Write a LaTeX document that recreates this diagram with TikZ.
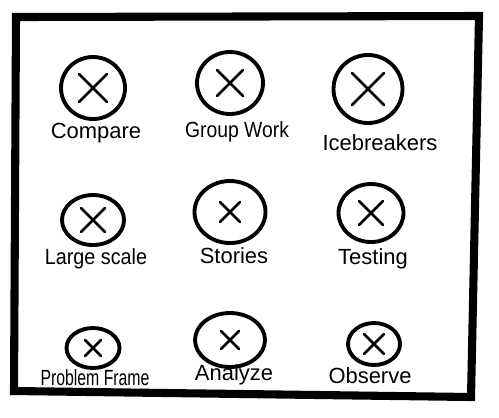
\documentclass[tikz,border=0pt]{standalone}
\usepackage{fontspec}
\setmainfont{Liberation Sans}
\usetikzlibrary{shapes.geometric,positioning}

\begin{document}
\begin{tikzpicture}[x=0.02cm,y=-0.02cm,
    spot/.style={draw,ellipse,inner sep=0pt,line width=2.2pt},
    cross/.style={line width=1.5pt,line cap=round},
    tag/.style={font=\fontsize{12.5}{14}\selectfont}]
        \useasboundingbox (0,0) rectangle (499,417);
        \draw[line width=4.6pt] (16,17)--(479,16)--(471,397)--(14,391)--cycle;
        \foreach \n/\x/\y/\w/\h/\s/\lx/\ly/\t in {
            compare/93/88/64/62/14/96/133/Compare,
            group/230/83/66/62/13/237/132/{\scalebox{0.88}[1]{Group Work}},
            ice/368/89/69/68/16/380/143/Icebreakers,
            large/93/220/62/50/12/96/259/{\scalebox{0.9}[1]{Large scale}},
            stories/230/212/71/62/10/234/256/Stories,
            testing/371/213/65/58/12/373/259/Testing,
            problem/93/348/53/40/8/95/378/{\scalebox{0.72}[1]{Problem Frame}},
            analyze/230/340/70/54/9/234/375/Analyze,
            observe/374/344/52/42/10/370/376/Observe}{
          \node[spot,minimum width=\w*0.02cm,minimum height=\h*0.02cm] (\n) at (\x,\y) {};
          \draw[cross] (\n.center) +(-\s,-\s) -- +(\s,\s) +(-\s,\s) -- +(\s,-\s);
          \node[tag] (\n-tag) at (\lx,\ly) {\t};
        }
      \end{tikzpicture}
\end{document}
